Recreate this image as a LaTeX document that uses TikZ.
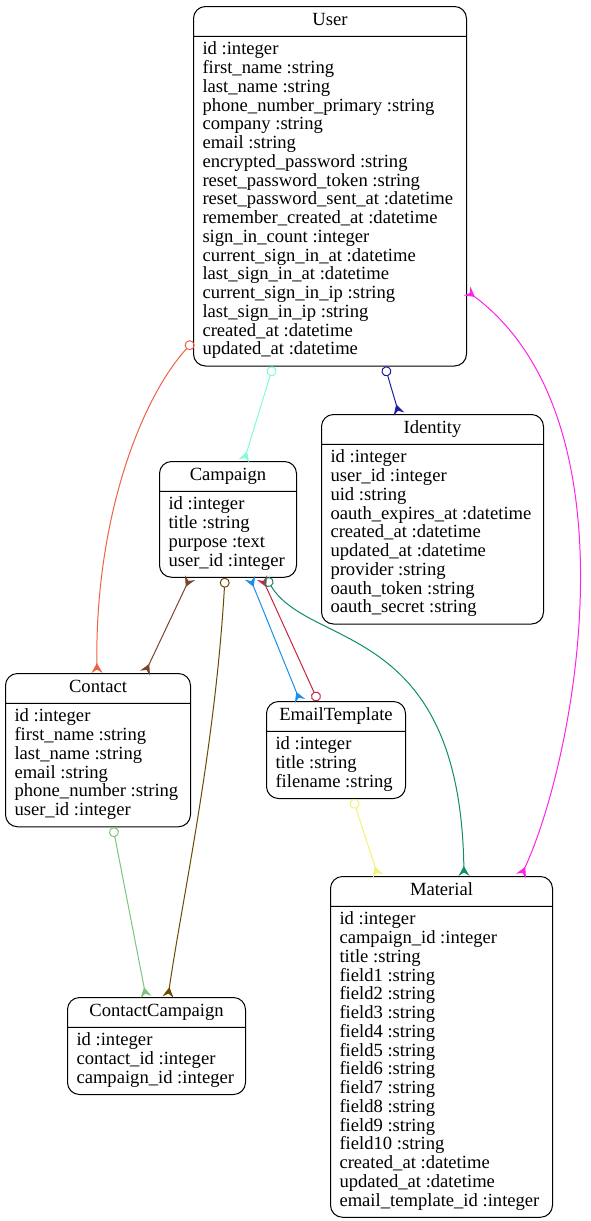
\documentclass[tikz,border=0pt]{standalone}
\usepackage{fontspec}
\setmainfont{Liberation Serif}
\usetikzlibrary{shapes.multipart,arrows.meta}

\definecolor{reltomato}{RGB}{238,98,68}
\definecolor{relaqua}{RGB}{130,250,220}
\definecolor{relnavy}{RGB}{30,30,160}
\definecolor{relmagenta}{RGB}{255,34,232}
\definecolor{relbrown}{RGB}{122,68,40}
\definecolor{relolive}{RGB}{107,74,0}
\definecolor{relblue}{RGB}{26,144,232}
\definecolor{relcrimson}{RGB}{200,36,60}
\definecolor{relgreen}{RGB}{16,140,104}
\definecolor{relyellow}{RGB}{242,242,120}
\definecolor{rellime}{RGB}{124,196,124}

\tikzset{
  entity/.style={rectangle split, rectangle split parts=2, draw, line width=1pt,
    rounded corners=12pt, inner xsep=9pt, inner ysep=5pt, anchor=north west,
    rectangle split part align={center,left},
    font=\fontsize{18.6}{18.75}\selectfont},
  crow/.tip={Stealth[reversed, length=10pt, width=11pt, inset=3.5pt]},
  odot/.tip={Circle[open, length=10pt]},
  rel/.style={line width=1pt},
}

\begin{document}
\begin{tikzpicture}[x=1pt, y=-1pt]
  \useasboundingbox (0,0) rectangle (590,1221);

  % tables
  \node[entity, minimum width=273pt] (user) at (193,6) {\strut User
    \nodepart{second}\begin{tabular}{@{}l@{}}
      id :integer\\ first\_name :string\\ last\_name :string\\
      phone\_number\_primary :string\\ company :string\\ email :string\\
      encrypted\_password :string\\ reset\_password\_token :string\\
      reset\_password\_sent\_at :datetime\\ remember\_created\_at :datetime\\
      sign\_in\_count :integer\\ current\_sign\_in\_at :datetime\\
      last\_sign\_in\_at :datetime\\ current\_sign\_in\_ip :string\\
      last\_sign\_in\_ip :string\\ created\_at :datetime\\ updated\_at :datetime
    \end{tabular}};
  \node[entity, minimum width=222pt] (identity) at (321,414) {\strut Identity
    \nodepart{second}\begin{tabular}{@{}l@{}}
      id :integer\\ user\_id :integer\\ uid :string\\
      oauth\_expires\_at :datetime\\ created\_at :datetime\\
      updated\_at :datetime\\ provider :string\\ oauth\_token :string\\
      oauth\_secret :string
    \end{tabular}};
  \node[entity, minimum width=137pt] (campaign) at (159,461) {\strut Campaign
    \nodepart{second}\begin{tabular}{@{}l@{}}
      id :integer\\ title :string\\ purpose :text\\ user\_id :integer
    \end{tabular}};
  \node[entity, minimum width=185pt] (contact) at (5,673) {\strut Contact
    \nodepart{second}\begin{tabular}{@{}l@{}}
      id :integer\\ first\_name :string\\ last\_name :string\\
      email :string\\ phone\_number :string\\ user\_id :integer
    \end{tabular}};
  \node[entity, minimum width=139pt] (emailtemplate) at (266,701) {\strut EmailTemplate
    \nodepart{second}\begin{tabular}{@{}l@{}}
      id :integer\\ title :string\\ filename :string
    \end{tabular}};
  \node[entity, minimum width=222pt] (material) at (330,876) {\strut Material
    \nodepart{second}\begin{tabular}{@{}l@{}}
      id :integer\\ campaign\_id :integer\\ title :string\\
      field1 :string\\ field2 :string\\ field3 :string\\ field4 :string\\
      field5 :string\\ field6 :string\\ field7 :string\\ field8 :string\\
      field9 :string\\ field10 :string\\ created\_at :datetime\\
      updated\_at :datetime\\ email\_template\_id :integer
    \end{tabular}};
  \node[entity, minimum width=178pt] (contactcampaign) at (67,997) {\strut ContactCampaign
    \nodepart{second}\begin{tabular}{@{}l@{}}
      id :integer\\ contact\_id :integer\\ campaign\_id :integer
    \end{tabular}};

  % relations
  \draw[rel, reltomato, {odot}-{crow}] ([yshift=25pt]user.south west)
    .. controls (140,400) and (95,520) .. ([xshift=92pt]contact.north west);
  \draw[rel, relaqua, {odot}-{crow}] ([xshift=80pt]user.south west) -- ([xshift=85pt]campaign.north west);
  \draw[rel, relnavy, {odot}-{crow}] ([xshift=192pt]user.south west) -- ([xshift=78pt]identity.north west);
  \draw[rel, relmagenta, {crow}-{crow}] ([yshift=-285pt]user.north east)
    .. controls (640,420) and (575,760) .. ([xshift=191pt]material.north west);
  \draw[rel, relbrown, {crow}-{crow}] ([xshift=31pt]campaign.south west) -- ([xshift=140pt]contact.north west);
  \draw[rel, relolive, {odot}-{crow}] ([xshift=66pt]campaign.south west)
    .. controls (215,750) and (182,900) .. ([xshift=101pt]contactcampaign.north west);
  \draw[rel, relblue, {crow}-{crow}] ([xshift=91pt]campaign.south west) -- ([xshift=34pt]emailtemplate.north west);
  \draw[rel, relcrimson, {crow}-{odot}] ([xshift=103pt]campaign.south west) -- ([xshift=52pt]emailtemplate.north west);
  \draw[rel, relgreen, {odot}-{crow}] ([xshift=107pt]campaign.south west)
    .. controls (310,650) and (460,620) .. ([xshift=134pt]material.north west);
  \draw[rel, relyellow, {odot}-{crow}] ([xshift=87pt]emailtemplate.south west) -- ([xshift=48pt]material.north west);
  \draw[rel, rellime, {odot}-{crow}] ([xshift=108pt]contact.south west) -- ([xshift=79pt]contactcampaign.north west);
\end{tikzpicture}
\end{document}
